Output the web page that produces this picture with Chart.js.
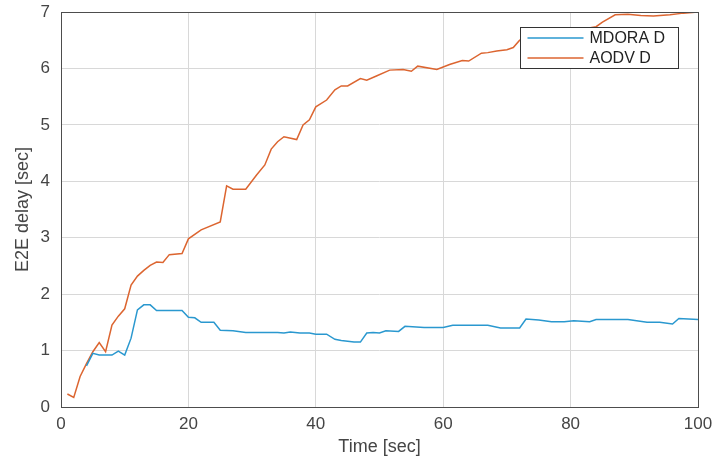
<!DOCTYPE html>
<html>
<head>
<meta charset="utf-8">
<script src="https://cdn.jsdelivr.net/npm/chart.js@4/dist/chart.umd.min.js"></script>
<style>
html,body{margin:0;padding:0;background:#fff;}
#wrap{width:718px;height:461px;position:relative;}
</style>
</head>
<body>
<div id="wrap"><canvas id="c"></canvas></div>
<script>
// ---- data ----
const seriesNames = ['MDORA D', 'AODV D'];
const xTicks = [0, 20, 40, 60, 80, 100];
const yTicks = [0, 1, 2, 3, 4, 5, 6, 7];

const mdoraTime = [4,5,6,8,9,10,11,12,13,14,15,19,20,21,22,24,25,27,29,34,35,36,37.5,39,40,41.7,43,44,46,47,48,49,50,51,53,54,57,60,61.5,67,69,72,73,75,77,79,80.5,83,84,89,92,94,96,97,100];
const mdoraDelay = [0.73,0.95,0.92,0.92,0.99,0.92,1.22,1.72,1.81,1.81,1.71,1.71,1.59,1.58,1.50,1.50,1.36,1.35,1.32,1.32,1.31,1.33,1.31,1.31,1.29,1.29,1.20,1.18,1.15,1.15,1.31,1.32,1.31,1.35,1.34,1.43,1.41,1.41,1.45,1.45,1.40,1.40,1.56,1.54,1.51,1.51,1.53,1.51,1.55,1.55,1.50,1.50,1.47,1.57,1.55];

const aodvTime = [1,2,3,4,5,6,7,8,9,10,11,12,13,14,15,16,17,19,20,22,25,26,27,29,30.7,32,33,34,35,37,38,39,40,41.7,43,44,45,47,48,49.6,51.6,53.7,55,56,59,61,63,64,66,67,68.4,70,71,72,75,80,84,85,87,89,91,93,95.6,97.7,100];
const aodvDelay = [0.23,0.17,0.54,0.77,0.98,1.14,0.98,1.45,1.61,1.74,2.16,2.32,2.42,2.51,2.57,2.56,2.70,2.72,2.98,3.14,3.28,3.92,3.86,3.86,4.11,4.29,4.57,4.70,4.79,4.74,5.00,5.09,5.32,5.44,5.62,5.69,5.69,5.82,5.79,5.87,5.97,5.98,5.95,6.04,5.98,6.07,6.14,6.13,6.27,6.28,6.31,6.33,6.37,6.50,6.58,6.66,6.74,6.82,6.95,6.96,6.94,6.93,6.95,6.98,7.00];

const xTitle = 'Time [sec]';
const yTitle = 'E2E delay [sec]';

const zip = (xs, ys) => xs.map((x, i) => ({x: x, y: ys[i]}));

const BLUE = '#2a98cf';
const ORANGE = '#dc6530';
const FONT = '"Liberation Sans", Arial, sans-serif';
const TXT = '#454545';

// Box around the plot + legend inside the axes
const boxAndLegend = {
  id: 'boxAndLegend',
  afterDraw(chart) {
    const ctx = chart.ctx;
    const a = chart.chartArea;
    ctx.save();
    ctx.strokeStyle = '#4d4d4d';
    ctx.lineWidth = 1;
    ctx.strokeRect(Math.round(a.left) + 0.5, Math.round(a.top) + 0.5,
                   Math.round(a.right - a.left), Math.round(a.bottom - a.top));
    // legend
    const bw = 158, bh = 41;
    const bx = Math.round(a.right - 20 - bw) + 0.5;
    const by = Math.round(a.top + 15) + 0.5;
    ctx.fillStyle = '#fff';
    ctx.fillRect(bx, by, bw, bh);
    ctx.strokeStyle = '#333';
    ctx.strokeRect(bx, by, bw, bh);
    ctx.font = '16px ' + FONT;
    ctx.textBaseline = 'middle';
    chart.data.datasets.forEach((ds, i) => {
      const yy = by + 10.5 + i * 20;
      ctx.strokeStyle = ds.borderColor;
      ctx.lineWidth = 1.3;
      ctx.beginPath();
      ctx.moveTo(bx + 7, yy);
      ctx.lineTo(bx + 63, yy);
      ctx.stroke();
      ctx.fillStyle = '#222';
      ctx.fillText(ds.label, bx + 69, yy + 1);
    });
    ctx.restore();
  }
};

new Chart(document.getElementById('c'), {
  type: 'line',
  data: {
    datasets: [
      {label: seriesNames[0], data: zip(mdoraTime, mdoraDelay), borderColor: BLUE, backgroundColor: BLUE,
       borderWidth: 1.5, pointRadius: 0, tension: 0, fill: false},
      {label: seriesNames[1], data: zip(aodvTime, aodvDelay), borderColor: ORANGE, backgroundColor: ORANGE,
       borderWidth: 1.5, pointRadius: 0, tension: 0, fill: false}
    ]
  },
  options: {
    responsive: true,
    maintainAspectRatio: false,
    animation: false,
    devicePixelRatio: 1,
    layout: {padding: {left: 0, right: 20, top: 12, bottom: 0}},
    plugins: {legend: {display: false}, tooltip: {enabled: false}},
    scales: {
      x: {
        type: 'linear', min: 0, max: 100,
        afterBuildTicks: s => { s.ticks = xTicks.map(v => ({value: v})); },
        afterFit: s => { s.height = 54; s.paddingLeft = 0; s.paddingRight = 0; },
        grid: {color: '#d8d8d8', lineWidth: 1, drawTicks: false},
        border: {display: false},
        ticks: {color: TXT, font: {family: FONT, size: 17}, padding: 7, maxRotation: 0},
        title: {display: true, text: xTitle, color: TXT, font: {family: FONT, size: 18}, padding: {top: 0, bottom: 3}}
      },
      y: {
        type: 'linear', min: 0, max: 7,
        afterBuildTicks: s => { s.ticks = yTicks.map(v => ({value: v})); },
        afterFit: s => { s.width = 61; s.paddingTop = 0; s.paddingBottom = 0; },
        grid: {color: '#d8d8d8', lineWidth: 1, drawTicks: false},
        border: {display: false},
        ticks: {color: TXT, font: {family: FONT, size: 17}, padding: 11},
        title: {display: true, text: yTitle, color: TXT, font: {family: FONT, size: 18}, padding: {top: 12, bottom: 0}}
      }
    }
  },
  plugins: [boxAndLegend]
});
</script>
</body>
</html>
